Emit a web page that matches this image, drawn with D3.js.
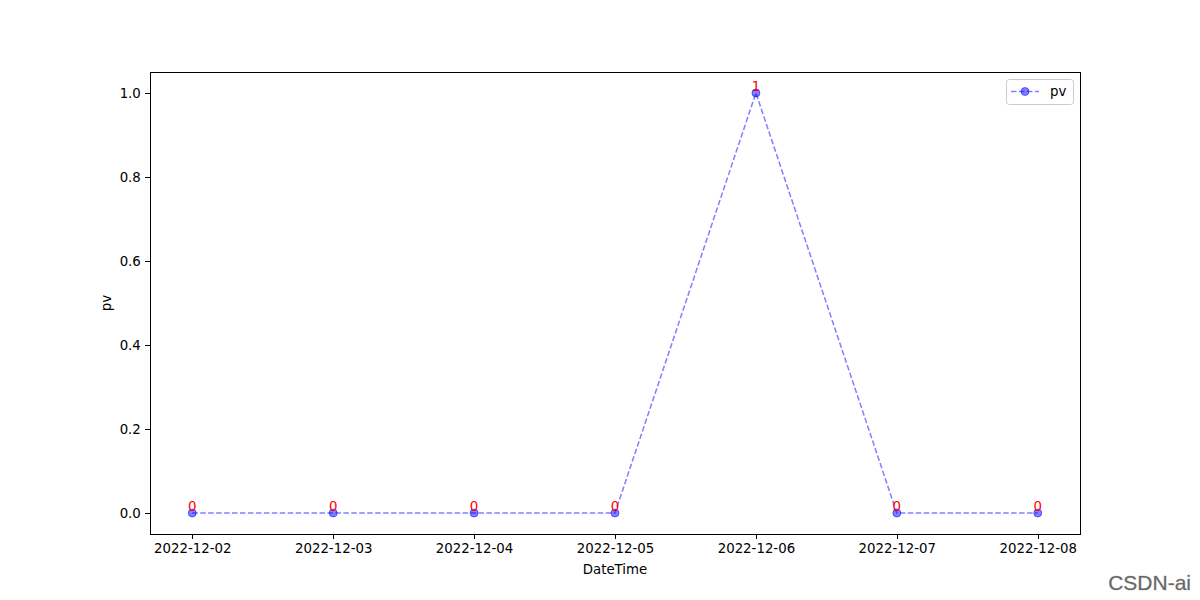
<!DOCTYPE html>
<html><head><meta charset="utf-8">
<script src="https://cdn.jsdelivr.net/npm/d3@7"></script>
<style>body{margin:0;background:#fff}svg{display:block}text{font-family:"DejaVu Sans",sans-serif}</style>
</head><body>
<svg id="c" width="1200" height="600"></svg>
<script>
const dates = ["2022-12-02","2022-12-03","2022-12-04","2022-12-05","2022-12-06","2022-12-07","2022-12-08"];
const pv = [0,0,0,0,1,0,0];
const yTicks = [0.0,0.2,0.4,0.6,0.8,1.0];

const svg = d3.select("#c");
const L=150,R=1080,T=72,B=534;
const parse = d3.utcParse("%Y-%m-%d");
const data = dates.map((d,i)=>({d:parse(d),v:pv[i],s:d}));
const x0=data[0].d, x1=data[data.length-1].d;
const span=x1-x0;
const x = d3.scaleUtc().domain([new Date(+x0-span*0.05), new Date(+x1+span*0.05)]).range([L,R]);
const y = d3.scaleLinear().domain([-0.05,1.05]).range([B,T]);

const fs = 13.33;
// axes
const xa = svg.append("g").attr("transform",`translate(0,${B})`)
  .call(d3.axisBottom(x).tickValues(data.map(d=>d.d)).tickFormat(d3.utcFormat("%Y-%m-%d")).tickSizeOuter(0).tickSize(4.67).tickPadding(4.5));
const ya = svg.append("g").attr("transform",`translate(${L},0)`)
  .call(d3.axisLeft(y).tickValues(yTicks).tickFormat(d3.format(".1f")).tickSizeOuter(0).tickSize(4.67).tickPadding(4.5));
[xa,ya].forEach(g=>{g.select(".domain").remove();g.selectAll("line").attr("stroke","#000").attr("stroke-width",1).attr("shape-rendering","crispEdges");g.selectAll("text").attr("font-size",fs).attr("fill","#000").style("font-family","DejaVu Sans");});
xa.selectAll("text").attr("dy","0.71em");

// line
const line = d3.line().x(d=>x(d.d)).y(d=>y(d.v));
svg.append("path").datum(data).attr("d",line).attr("fill","none")
  .attr("stroke","blue").attr("stroke-opacity",0.5).attr("stroke-width",1.5).attr("stroke-dasharray","5.55,2.4");
svg.selectAll("circle.pt").data(data).enter().append("circle").attr("class","pt")
  .attr("cx",d=>x(d.d)).attr("cy",d=>y(d.v)).attr("r",4)
  .attr("fill","blue").attr("fill-opacity",0.5).attr("stroke","blue").attr("stroke-opacity",0.5).attr("stroke-width",1);
svg.selectAll("text.lbl").data(data).enter().append("text").attr("class","lbl")
  .attr("x",d=>x(d.d)).attr("y",d=>y(d.v)-2).attr("text-anchor","middle")
  .attr("font-size",fs).attr("fill","red").text(d=>d.v);

// frame
svg.append("rect").attr("x",L+0.5).attr("y",T+0.5).attr("width",R-L).attr("height",B-T)
  .attr("fill","none").attr("stroke","#000").attr("stroke-width",1).attr("shape-rendering","crispEdges");

// labels
svg.append("text").attr("x",(L+R)/2).attr("y",574).attr("text-anchor","middle").attr("font-size",fs).text("DateTime");
svg.append("text").attr("transform",`translate(111,${(T+B)/2}) rotate(-90)`).attr("text-anchor","middle").attr("font-size",fs).text("pv");

// legend
const lg = svg.append("g");
lg.append("rect").attr("x",1006.5).attr("y",79.5).attr("width",67).attr("height",25).attr("rx",3)
  .attr("fill","#fff").attr("fill-opacity",0.8).attr("stroke","#ccc").attr("stroke-width",1);
lg.append("line").attr("x1",1011).attr("x2",1039).attr("y1",91.5).attr("y2",91.5)
  .attr("stroke","blue").attr("stroke-opacity",0.5).attr("stroke-width",1.5).attr("stroke-dasharray","5.55,2.4");
lg.append("circle").attr("cx",1025).attr("cy",91.5).attr("r",4).attr("fill","blue").attr("fill-opacity",0.5).attr("stroke","blue").attr("stroke-opacity",0.5);
lg.append("text").attr("x",1050).attr("y",96).attr("font-size",fs).text("pv");

// watermark
svg.append("text").attr("x",1191).attr("y",590).attr("text-anchor","end").attr("font-size",21)
  .style("font-family","Liberation Sans, Arial, sans-serif").attr("fill","#666").attr("stroke","#ddd").attr("stroke-width",1).attr("paint-order","stroke").text("CSDN-ai");
</script>
</body></html>
